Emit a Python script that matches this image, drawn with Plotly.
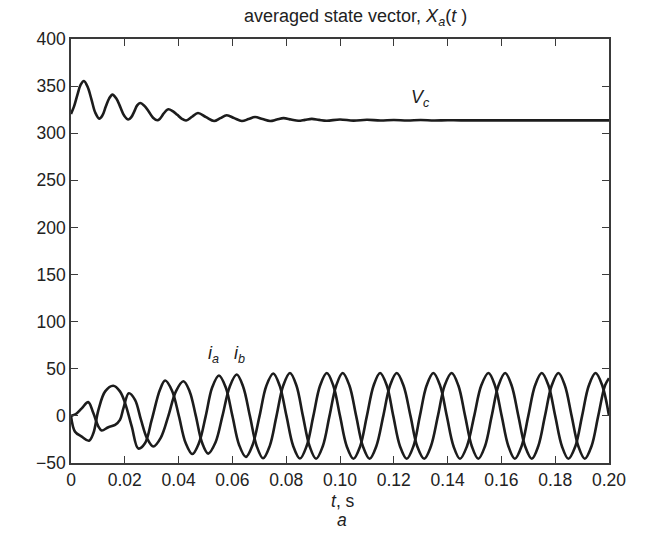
import plotly.graph_objects as go

# ---- data ----
t_vc = [0, 0.0012, 0.0024, 0.0036, 0.0048, 0.0062, 0.0076, 0.009, 0.0105, 0.0117,
        0.0129, 0.0142, 0.0154, 0.0168, 0.0183, 0.0198, 0.0213, 0.0224, 0.0235, 0.0246,
        0.0257, 0.0273, 0.0289, 0.0305, 0.0321, 0.0331, 0.0341, 0.0352, 0.0362, 0.0378,
        0.0395, 0.0411, 0.0428, 0.045, 0.0472, 0.0502, 0.0532, 0.0555, 0.0579, 0.0607,
        0.0635, 0.066, 0.0684, 0.0712, 0.074, 0.0765, 0.079, 0.0818, 0.0845, 0.087,
        0.0895, 0.0922, 0.095, 0.1, 0.105, 0.11, 0.115, 0.12, 0.125, 0.13,
        0.135, 0.14, 0.145, 0.2]
vc = [320.5, 329, 341, 351.5, 355.5, 349, 336, 322, 315.5, 319,
      328, 337, 341, 337, 328, 318.5, 314.5, 317, 323, 329.5,
      332, 329, 323, 316.5, 313.8, 315.5, 319.5, 323.5, 325.5, 323.5,
      319.5, 315.5, 313.5, 317.5, 321.5, 317, 313, 316, 319, 316,
      313, 315, 317.2, 315, 313, 314.5, 316, 314.5, 313.2, 314.2,
      315.2, 314.2, 313.3, 314.6, 313.4, 314.3, 313.5, 314.1, 313.5, 314,
      313.5, 313.8, 313.6, 313.6]

t_ia = [0, 0.0015, 0.004, 0.0067, 0.0083, 0.0102, 0.0127, 0.0157, 0.0182, 0.0201,
        0.0226, 0.025, 0.0275, 0.03, 0.0331, 0.035, 0.0376, 0.0401, 0.0426, 0.0451,
        0.0476, 0.0501, 0.0525, 0.055, 0.0575, 0.06, 0.0625, 0.065, 0.0675, 0.0701,
        0.0726, 0.0752, 0.0776, 0.0801, 0.0826, 0.0851, 0.0876, 0.0901, 0.0926, 0.0951,
        0.0975, 0.1, 0.1025, 0.105, 0.1075, 0.11, 0.1125, 0.1149, 0.1174, 0.1198,
        0.1223, 0.1248, 0.1273, 0.1297, 0.1322, 0.1347, 0.1372, 0.1397, 0.1422, 0.1446,
        0.1472, 0.1499, 0.1525, 0.1552, 0.1576, 0.1601, 0.1626, 0.165, 0.1675, 0.17,
        0.1725, 0.175, 0.1775, 0.18, 0.1825, 0.1849, 0.1875, 0.19, 0.1925, 0.195,
        0.1975, 0.2]
ia = [0, -16.8, -22, -26.4, -18.5, 6.4, 26, 32, 26, 13.6,
      -11.4, -34.6, -29, -4.3, 28, 37.5, 26.5, 0, -28.6, -40.5,
      -28.6, 0, 30.3, 42.8, 30.3, 0, -30.8, -43.5, -30.8, 0,
      31.8, 45, 31.8, 0, -32, -45.3, -32, 0, 32.2, 45.5,
      32.2, 0, -32.2, -45.5, -32.2, 0, 32.2, 45.5, 32.2, 0,
      -32.2, -45.5, -32.2, 0, 32.2, 45.5, 32.2, 0, -32.2, -45.5,
      -32.2, 0, 32.2, 45.5, 32.2, 0, -32.2, -45.5, -32.2, 0,
      32.2, 45.5, 32.2, 0, -32.2, -45.5, -32.2, 0, 32.2, 45.5,
      32.2, 0]

t_ib = [0, 0.0018, 0.004, 0.0064, 0.0083, 0.0102, 0.0114, 0.0139, 0.0164, 0.0182,
        0.0195, 0.0215, 0.0238, 0.026, 0.0283, 0.0306, 0.0334, 0.0362, 0.039, 0.0418,
        0.0441, 0.0464, 0.0487, 0.051, 0.0537, 0.0563, 0.059, 0.0616, 0.064, 0.0665,
        0.069, 0.0714, 0.0739, 0.0764, 0.0789, 0.0814, 0.0838, 0.0862, 0.0887, 0.0911,
        0.0936, 0.0961, 0.0986, 0.101, 0.1035, 0.106, 0.1085, 0.111, 0.1135, 0.1161,
        0.1186, 0.1211, 0.1236, 0.1262, 0.1287, 0.1313, 0.1338, 0.1364, 0.1389, 0.1415,
        0.144, 0.1465, 0.149, 0.1514, 0.1539, 0.1564, 0.1589, 0.1614, 0.1638, 0.1663,
        0.1688, 0.1713, 0.1737, 0.1762, 0.1787, 0.1812, 0.1836, 0.1861, 0.1886, 0.191,
        0.1935, 0.196, 0.1985, 0.2]
ib = [0, 2, 8, 14.6, 3, -11.4, -15.5, -12, -9.6, -4.3,
      8.2, 24, 17, -4, -24, -32.5, -23, 0, 26, 36.7,
      26, 0, -28.3, -40, -28.3, 0, 31, 43.9, 31, 0,
      -31.8, -45, -31.8, 0, 32.2, 45.5, 32.2, 0, -32.2, -45.5,
      -32.2, 0, 32.2, 45.5, 32.2, 0, -32.2, -45.5, -32.2, 0,
      32.2, 45.5, 32.2, 0, -32.2, -45.5, -32.2, 0, 32.2, 45.5,
      32.2, 0, -32.2, -45.5, -32.2, 0, 32.2, 45.5, 32.2, 0,
      -32.2, -45.5, -32.2, 0, 32.2, 45.5, 32.2, 0, -32.2, -45.5,
      -32.2, 0, 32.2, 40]

x_ticks = [0, 0.02, 0.04, 0.06, 0.08, 0.10, 0.12, 0.14, 0.16, 0.18, 0.20]
x_ticktext = ["0", "0.02", "0.04", "0.06", "0.08", "0.10", "0.12", "0.14", "0.16", "0.18", "0.20"]
y_ticks = [-50, 0, 50, 100, 150, 200, 250, 300, 350, 400]
y_ticktext = ["\u221250", "0", "50", "100", "150", "200", "250", "300", "350", "400"]

title_text = "averaged state vector, <i>X</i><sub><i>a</i></sub>(<i>t</i> )"
label_vc = "<i>V</i><sub><i>c</i></sub>"
label_ia = "<i>i</i><sub><i>a</i></sub>"
label_ib = "<i>i</i><sub><i>b</i></sub>"
label_vc_pos = (0.1301, 337)
label_ia_pos = (0.0528, 65)
label_ib_pos = (0.0625, 65)

FONT = "Liberation Sans, Arial, Helvetica, sans-serif"
LINE = dict(color="#1c1c1c", width=2.6, shape="spline", smoothing=1.0)

fig = go.Figure()
for tx, yv in [(t_vc, vc), (t_ia, ia), (t_ib, ib)]:
    fig.add_trace(go.Scatter(x=tx, y=yv, mode="lines", line=LINE,
                             showlegend=False, hoverinfo="skip"))

axis_common = dict(showgrid=False, zeroline=False, showline=True, mirror="ticks",
                   linecolor="#3a3a3a", linewidth=1.5, ticks="inside", ticklen=7,
                   tickwidth=1.3, tickcolor="#3a3a3a",
                   tickfont=dict(family=FONT, size=17.5, color="#222"))

fig.update_xaxes(range=[0, 0.2], tickvals=x_ticks, ticktext=x_ticktext, **axis_common)
fig.update_yaxes(range=[-50, 400], tickvals=y_ticks, ticktext=y_ticktext, **axis_common)

anns = [
    dict(text=title_text, xref="paper", yref="paper", x=0.528, y=1 + 21 / 424,
         showarrow=False, xanchor="center", yanchor="middle",
         font=dict(family=FONT, size=18, color="#222")),
    dict(text="<i>t</i>, s", xref="paper", yref="paper", x=(343 - 71) / 538,
         y=-(501 - 463) / 424, showarrow=False, xanchor="center", yanchor="middle",
         font=dict(family=FONT, size=17.5, color="#222")),
    dict(text="<i>a</i>", xref="paper", yref="paper", x=(342 - 71) / 538,
         y=-(520 - 463) / 424, showarrow=False, xanchor="center", yanchor="middle",
         font=dict(family=FONT, size=17.5, color="#222")),
]
for txt, (px, py) in [(label_vc, label_vc_pos), (label_ia, label_ia_pos), (label_ib, label_ib_pos)]:
    anns.append(dict(text=txt, x=px, y=py, xref="x", yref="y", showarrow=False,
                     xanchor="center", yanchor="middle",
                     font=dict(family=FONT, size=18, color="#222")))

fig.update_layout(width=645, height=533, margin=dict(l=71, r=36, t=39, b=70),
                  paper_bgcolor="white", plot_bgcolor="white", annotations=anns)

fig.write_html("out.html")
